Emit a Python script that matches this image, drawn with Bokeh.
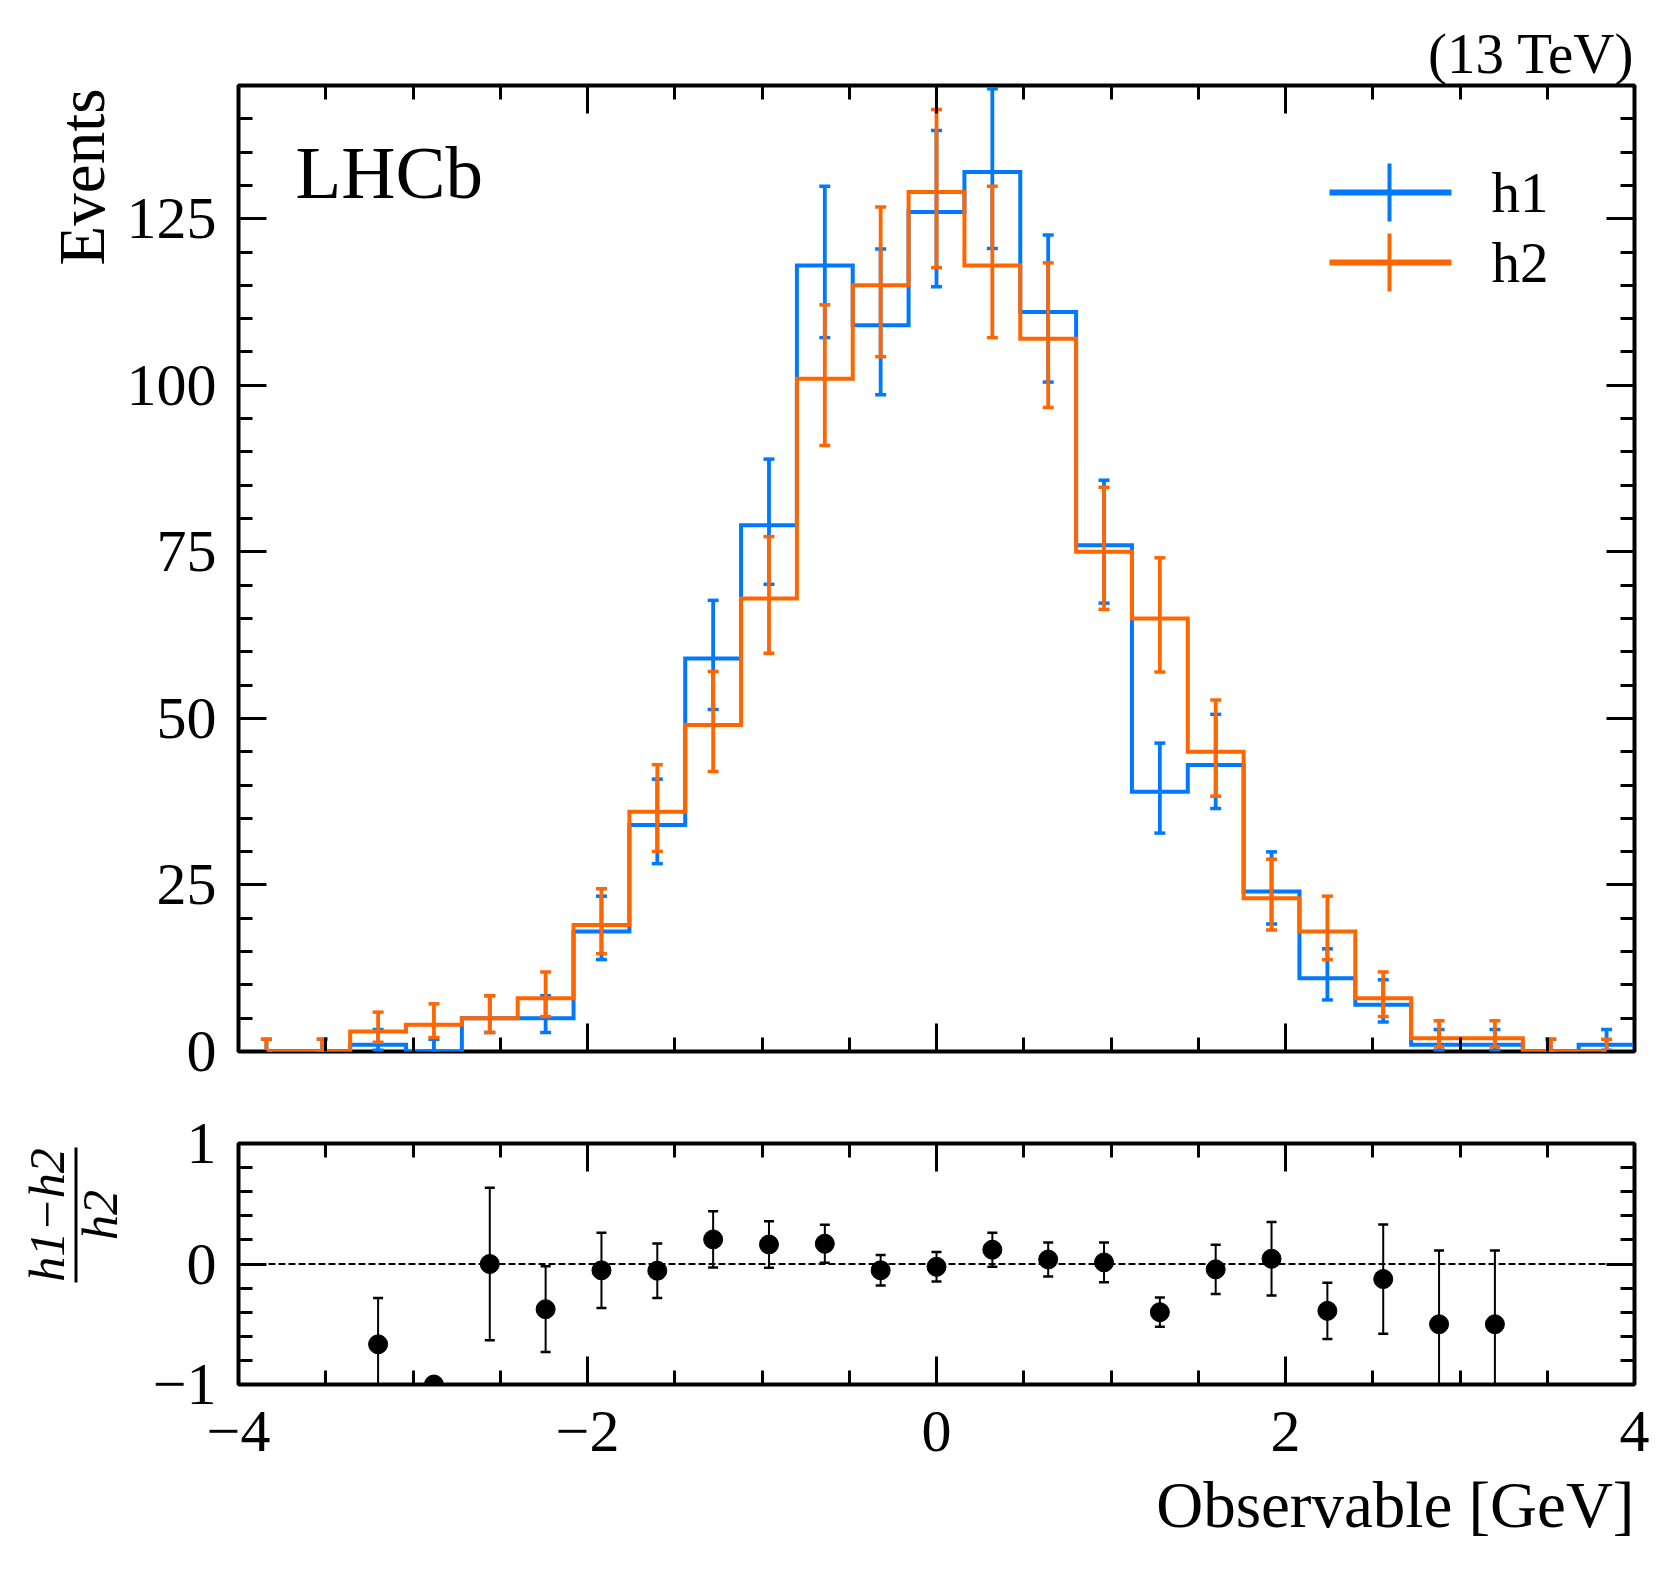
import numpy as np
from bokeh.plotting import figure
from bokeh.models import (Range1d, LinearAxis, FixedTicker, Label, BoxAnnotation,
                          ColumnDataSource, Span, Title)
from bokeh.layouts import column, row
from bokeh.embed import file_html
from bokeh.resources import INLINE
from bokeh.core.properties import value

# ---------------- data ----------------
bin_edges = [-4.0, -3.68, -3.36, -3.04, -2.72, -2.4, -2.08, -1.76, -1.44, -1.12, -0.8,
             -0.48, -0.16, 0.16, 0.48, 0.8, 1.12, 1.44, 1.76, 2.08, 2.4, 2.72, 3.04,
             3.36, 3.68, 4.0]
h1_counts = [0, 0, 1, 0, 5, 5, 18, 34, 59, 79, 118, 109, 126, 132, 111, 76, 39, 43,
             24, 11, 7, 1, 1, 0, 1]
h2_counts = [0, 0, 3, 4, 5, 8, 19, 36, 49, 68, 101, 115, 129, 118, 107, 75, 65, 45,
             23, 18, 8, 2, 2, 0, 0]

x_major_ticks = [-4, -2, 0, 2, 4]
x_minor_ticks = [-4, -3.5, -3, -2.5, -2, -1.5, -1, -0.5, 0, 0.5, 1, 1.5, 2, 2.5, 3, 3.5, 4]
x_tick_labels = {-4: "\u22124", -2: "\u22122", 0: "0", 2: "2", 4: "4"}
y_major_ticks = [0, 25, 50, 75, 100, 125]
y_minor_ticks = list(range(0, 150, 5))
r_major_ticks = [-1, 0, 1]
r_minor_ticks = [-1, -0.8, -0.6, -0.4, -0.2, 0, 0.2, 0.4, 0.6, 0.8, 1]
r_tick_labels = {-1: "\u22121", 0: "0", 1: "1"}

BLUE = "#0078FF"
ORANGE = "#FF6600"
FONT = "Liberation Serif"

# ---------------- derived ----------------
edges = np.array(bin_edges)
centers = 0.5 * (edges[:-1] + edges[1:])
h1 = np.array(h1_counts, float)
h2 = np.array(h2_counts, float)


def poisson_interval(n):
    n = np.asarray(n, float)
    nn = np.maximum(n, 1.0)
    lo = np.where(n > 0, n * (1 - 1 / (9 * nn) - 1 / (3 * np.sqrt(nn))) ** 3, 0.0)
    m = n + 1
    hi = m * (1 - 1 / (9 * m) + 1 / (3 * np.sqrt(m))) ** 3
    return lo, hi


# layout (pixels, page coordinates)
FRAME_LEFT = 238
FW, FH = 1396, 966  # main frame
RH = 241            # ratio frame
LW1, LW2 = 118, 140  # left label strips (main, ratio)
BL1, BL2 = FRAME_LEFT - LW1, FRAME_LEFT - LW2
BR = 37
T1, B1 = 85, 40
T2, B2 = 52, 185
H1 = T1 + FH + B1
H2 = T2 + RH + B2
P1_TOP, P1_BOT = T1, T1 + FH
P2_TOP, P2_BOT = H1 + T2, H1 + T2 + RH

x_range = Range1d(-4, 4)


def style_axis(ax, labels=True):
    ax.axis_line_color = None
    ax.major_tick_in = 28
    ax.major_tick_out = 0
    ax.minor_tick_in = 14
    ax.minor_tick_out = 0
    ax.major_tick_line_width = 3
    ax.minor_tick_line_width = 3
    ax.major_tick_line_color = "black"
    ax.minor_tick_line_color = "black"
    ax.major_label_text_font = FONT
    if labels:
        ax.major_label_text_font_size = "60px"
        ax.major_label_text_color = "black"
    else:
        ax.major_label_text_font_size = "0px"
        ax.major_label_text_color = None
        ax.major_label_standoff = 0


def base_style(p):
    p.xgrid.visible = False
    p.ygrid.visible = False
    p.outline_line_color = "black"
    p.outline_line_width = 4
    p.background_fill_color = "white"
    p.border_fill_color = "white"


def strip(width, height, top, bottom, page_top, page_bot):
    # frame vertically matches the neighbouring plot's frame; y data = -page y
    s = figure(width=width, height=height, frame_width=width,
               frame_height=height - top - bottom,
               x_range=Range1d(0, width), y_range=Range1d(-page_bot, -page_top),
               output_backend="svg", toolbar_location=None,
               x_axis_type=None, y_axis_type=None,
               min_border_left=0, min_border_right=0, min_border_top=top,
               min_border_bottom=bottom, outline_line_color=None)
    s.xgrid.visible = False
    s.ygrid.visible = False
    s.title.visible = False
    return s


# ---------------- main panel ----------------
p1 = figure(width=BL1 + FW + BR, height=H1, frame_width=FW, frame_height=FH,
            x_range=x_range, y_range=Range1d(0, 145), output_backend="svg",
            toolbar_location=None, min_border_left=BL1, min_border_right=BR,
            min_border_top=T1, min_border_bottom=B1)
base_style(p1)
p1.xaxis.ticker = FixedTicker(ticks=x_major_ticks, minor_ticks=x_minor_ticks)
p1.yaxis.ticker = FixedTicker(ticks=y_major_ticks, minor_ticks=y_minor_ticks)
style_axis(p1.xaxis[0], labels=False)
style_axis(p1.yaxis[0])
p1.yaxis.major_label_standoff = 22
p1.add_layout(LinearAxis(ticker=FixedTicker(ticks=x_major_ticks, minor_ticks=x_minor_ticks)), "above")
p1.add_layout(LinearAxis(ticker=FixedTicker(ticks=y_major_ticks, minor_ticks=y_minor_ticks)), "right")
style_axis(p1.above[0], labels=False)
style_axis(p1.right[0], labels=False)

p1.title.text = "(13 TeV)"
p1.title.align = "right"
p1.title.text_font = FONT
p1.title.text_font_size = "57px"
p1.title.text_font_style = "normal"
p1.title.text_color = "black"
p1.title.standoff = 2

for counts, color in ((h1, BLUE), (h2, ORANGE)):
    ystep = np.append(counts, counts[-1])
    p1.step(x=edges, y=ystep, mode="after", line_color=color, line_width=4,
            line_join="miter")
    lo, hi = poisson_interval(counts)
    src = ColumnDataSource(dict(x=centers, lo=lo, hi=hi))
    p1.segment(x0="x", y0="lo", x1="x", y1="hi", source=src, line_color=color,
               line_width=3.8)
    p1.scatter(x="x", y="lo", source=src, marker="dash", size=11, line_color=color,
               line_width=3.5)
    p1.scatter(x="x", y="hi", source=src, marker="dash", size=11, line_color=color,
               line_width=3.5)

p1.add_layout(Label(x=57, y=879, x_units="screen", y_units="screen", text="LHCb",
                    text_align="left", text_baseline="alphabetic",
                    text_font=FONT, text_font_size="75px", text_color="black"))

# legend
leg = [("h1", BLUE, 859), ("h2", ORANGE, 789)]
for name, color, yc in leg:
    p1.add_layout(BoxAnnotation(left=1091, right=1213, bottom=yc - 3, top=yc + 3,
                                left_units="screen", right_units="screen",
                                bottom_units="screen", top_units="screen",
                                fill_color=color, fill_alpha=1.0, line_color=None))
    p1.add_layout(BoxAnnotation(left=1149, right=1153, bottom=yc - 29, top=yc + 29,
                                left_units="screen", right_units="screen",
                                bottom_units="screen", top_units="screen",
                                fill_color=color, fill_alpha=1.0, line_color=None))
    p1.add_layout(Label(x=1253, y=yc, x_units="screen", y_units="screen", text=name,
                        text_align="left", text_baseline="alphabetic",
                        text_font=FONT, text_font_size="57px", text_color="black"))

# ---------------- ratio panel ----------------
p2 = figure(width=BL2 + FW + BR, height=H2, frame_width=FW, frame_height=RH,
            x_range=x_range, y_range=Range1d(-1, 1), output_backend="svg",
            toolbar_location=None, min_border_left=BL2, min_border_right=BR,
            min_border_top=T2, min_border_bottom=B2)
base_style(p2)
p2.xaxis.ticker = FixedTicker(ticks=x_major_ticks, minor_ticks=x_minor_ticks)
p2.yaxis.ticker = FixedTicker(ticks=r_major_ticks, minor_ticks=r_minor_ticks)
style_axis(p2.xaxis[0])
style_axis(p2.yaxis[0])
p2.xaxis.major_label_overrides = x_tick_labels
p2.yaxis.major_label_overrides = r_tick_labels
p2.xaxis.major_label_standoff = 27
p2.yaxis.major_label_standoff = 22
p2.add_layout(LinearAxis(ticker=FixedTicker(ticks=x_major_ticks, minor_ticks=x_minor_ticks)), "above")
p2.add_layout(LinearAxis(ticker=FixedTicker(ticks=r_major_ticks, minor_ticks=r_minor_ticks)), "right")
style_axis(p2.above[0], labels=False)
style_axis(p2.right[0], labels=False)
p2.add_layout(Title(text="Observable [GeV]", align="right", text_font=FONT,
                    text_font_size="65px", text_font_style="normal", text_color="black",
                    standoff=26), "below")

p2.add_layout(Span(location=0, dimension="width", line_color="black", line_width=1.8,
                   line_dash="7 3"))

mask = h2 > 0
ratio = h1[mask] / h2[mask] - 1
rerr = np.sqrt(h1[mask] / h2[mask] ** 2 + h1[mask] ** 2 / h2[mask] ** 3)
rsrc = ColumnDataSource(dict(x=centers[mask], y=ratio, lo=ratio - rerr, hi=ratio + rerr))
p2.segment(x0="x", y0="lo", x1="x", y1="hi", source=rsrc, line_color="black", line_width=2)
p2.scatter(x="x", y="lo", source=rsrc, marker="dash", size=10, line_color="black", line_width=2.5)
p2.scatter(x="x", y="hi", source=rsrc, marker="dash", size=10, line_color="black", line_width=2.5)
p2.scatter(x="x", y="y", source=rsrc, marker="circle", size=19, fill_color="black",
           line_color="black")

# ---------------- left strips with the y-axis titles ----------------
pl1 = strip(LW1, H1, T1, B1, P1_TOP, P1_BOT)
pl1.text(x=[81], y=[-88], text=["Events"], angle=np.pi / 2, text_align="right",
         text_baseline="alphabetic", text_font=value(FONT), text_font_size="65px",
         text_color="black")

pl2 = strip(LW2, H2, T2, B2, P2_TOP, P2_BOT)
pl2.text(x=[46], y=[-1214.5], text=["h1\u2212h2"], angle=np.pi / 2, text_align="center",
         text_baseline="alphabetic", text_font=value(FONT), text_font_style="italic",
         text_font_size="50px", text_color="black")
pl2.text(x=[99.5], y=[-1214.5], text=["h2"], angle=np.pi / 2, text_align="center",
         text_baseline="alphabetic", text_font=value(FONT), text_font_style="italic",
         text_font_size="50px", text_color="black")
pl2.segment(x0=[75.5], y0=[-1147], x1=[75.5], y1=[-1282], line_color="black",
            line_width=3)

layout = column(row(pl1, p1, spacing=0), row(pl2, p2, spacing=0), spacing=0)
open("out.html", "w").write(file_html(layout, INLINE))
